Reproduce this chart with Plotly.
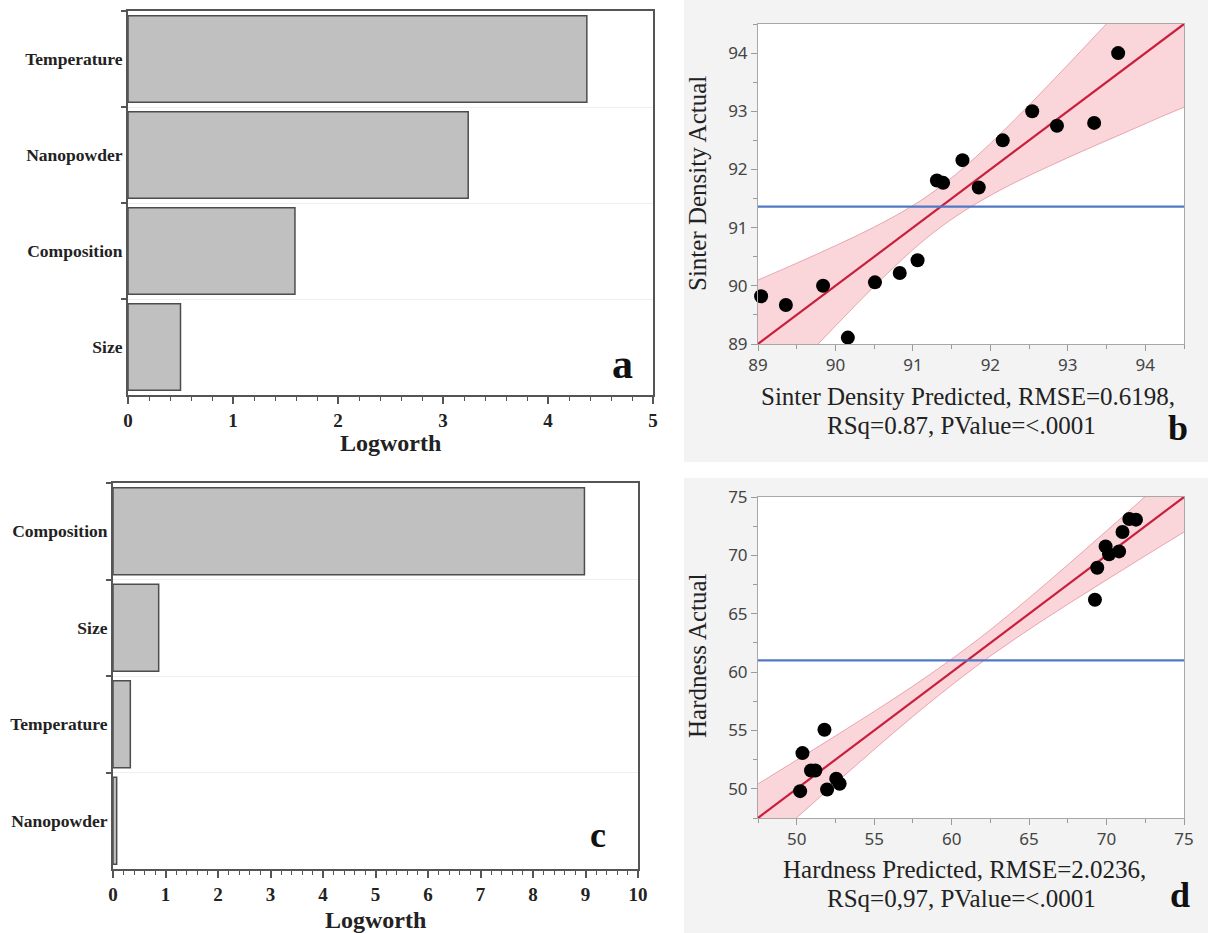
import plotly.graph_objects as go

W, H = 1208, 933

# ---------------- data ----------------
# Panel a: Logworth (sinter density model)
cats_a = ["Temperature", "Nanopowder", "Composition", "Size"]
logworth_a = [4.37, 3.24, 1.59, 0.50]

# Panel c: Logworth (hardness model)
cats_c = ["Composition", "Size", "Temperature", "Nanopowder"]
logworth_c = [8.98, 0.87, 0.33, 0.07]

# Panel b: Sinter density actual vs predicted
sd_pred = [89.04, 89.36, 89.84, 90.16, 90.51, 90.83, 91.06, 91.31, 91.39,
           91.64, 91.85, 92.16, 92.54, 92.86, 93.34, 93.65]
sd_actual = [89.82, 89.67, 90.00, 89.11, 90.06, 90.22, 90.44, 91.81, 91.77,
             92.16, 91.69, 92.50, 93.00, 92.75, 92.80, 94.00]
sd_mean = 91.36
sd_band_x = [89.0, 89.5, 90.0, 90.5, 91.0, 91.36, 91.75, 92.25, 92.75, 93.25, 93.75, 94.25, 94.5]
sd_band_hw = [1.10, 0.89, 0.69, 0.51, 0.38, 0.35, 0.39, 0.52, 0.70, 0.90, 1.11, 1.32, 1.43]

# Panel d: Hardness actual vs predicted
hd_pred = [50.22, 50.37, 50.92, 51.20, 51.79, 51.96, 52.55, 52.77,
           69.25, 69.40, 69.94, 70.16, 70.81, 71.03, 71.47, 71.90]
hd_actual = [49.80, 53.06, 51.57, 51.57, 55.06, 49.94, 50.86, 50.43,
             66.20, 68.94, 70.77, 70.09, 70.34, 72.00, 73.11, 73.06]
hd_mean = 61.0
hd_band_x = [47.5, 50.0, 52.5, 55.0, 57.5, 60.0, 61.05, 62.5, 65.0, 67.5, 70.0, 72.5, 75.0]
hd_band_hw = [2.92, 2.47, 2.03, 1.63, 1.30, 1.12, 1.10, 1.13, 1.35, 1.69, 2.10, 2.54, 3.00]

fit_slope, fit_intercept = 1.0, 0.0

# ---------------- helpers ----------------
def px(x):
    return x / W

def py(y):
    return 1 - y / H

SERIF = "Liberation Serif, Times New Roman, serif"
SANS = "Noto Sans, Open Sans, sans-serif"
BAR_FILL = "#c0c0c0"
BAR_LINE = "#4d4d4d"
FRAME = "#555555"
RED = "#c8203c"
BLUE = "#5078c4"
BAND_FILL = "rgba(240,120,135,0.30)"
BAND_LINE = "rgba(215,110,125,0.55)"
PANEL_BG = "#f3f3f3"

fig = go.Figure()

# ---------------- bar panels ----------------
fig.add_trace(go.Bar(x=logworth_a, y=cats_a, orientation="h", width=0.9,
                     marker=dict(color=BAR_FILL, line=dict(color=BAR_LINE, width=1.5)),
                     xaxis="x", yaxis="y", hoverinfo="skip"))
fig.add_trace(go.Bar(x=logworth_c, y=cats_c, orientation="h", width=0.9,
                     marker=dict(color=BAR_FILL, line=dict(color=BAR_LINE, width=1.5)),
                     xaxis="x3", yaxis="y3", hoverinfo="skip"))

# ---------------- scatter panels ----------------
def add_fit_panel(xa, ya, pred, actual, band_x, band_hw):
    lower = [x * fit_slope + fit_intercept - h for x, h in zip(band_x, band_hw)]
    upper = [x * fit_slope + fit_intercept + h for x, h in zip(band_x, band_hw)]
    fig.add_trace(go.Scatter(x=band_x, y=lower, mode="lines",
                             line=dict(color=BAND_LINE, width=1, shape="spline"),
                             xaxis=xa, yaxis=ya, hoverinfo="skip"))
    fig.add_trace(go.Scatter(x=band_x, y=upper, mode="lines", fill="tonexty",
                             fillcolor=BAND_FILL,
                             line=dict(color=BAND_LINE, width=1, shape="spline"),
                             xaxis=xa, yaxis=ya, hoverinfo="skip"))
    fit_y = [x * fit_slope + fit_intercept for x in band_x]
    fig.add_trace(go.Scatter(x=band_x, y=fit_y, mode="lines",
                             line=dict(color=RED, width=2.2),
                             xaxis=xa, yaxis=ya, hoverinfo="skip"))
    fig.add_trace(go.Scatter(x=pred, y=actual, mode="markers",
                             marker=dict(color="black", size=14),
                             xaxis=xa, yaxis=ya, cliponaxis=False, hoverinfo="skip"))

add_fit_panel("x2", "y2", sd_pred, sd_actual, sd_band_x, sd_band_hw)
add_fit_panel("x4", "y4", hd_pred, hd_actual, hd_band_x, hd_band_hw)

# ---------------- axes ----------------
bar_x_common = dict(showline=True, mirror=True, linecolor=FRAME, linewidth=2,
                    ticks="outside", ticklen=7, tickwidth=1.5, tickcolor=FRAME,
                    showgrid=False, zeroline=False, dtick=1, tick0=0, automargin=False,
                    minor=dict(dtick=0.2, ticks="outside", ticklen=4, tickcolor=FRAME, tickwidth=1),
                    tickfont=dict(family=SERIF, size=19, color="#222", weight="bold"))
bar_y_common = dict(showline=True, mirror=True, linecolor=FRAME, linewidth=2,
                    ticks="outside", ticklen=5, tickwidth=2, tickcolor=FRAME,
                    tickson="boundaries", showgrid=True, gridcolor="#efefef", gridwidth=1,
                    autorange="reversed", categoryorder="array", automargin=False,
                    tickfont=dict(family=SERIF, size=17.5, color="#222", weight="bold"))

fit_common = dict(showline=True, mirror=True, linecolor="#a8a8a8", linewidth=1,
                  ticks="outside", ticklen=6, tickcolor="#9a9a9a", tickwidth=1,
                  showgrid=False, zeroline=False, automargin=False,
                  tickfont=dict(family=SANS, size=17, color="#444"))

layout_axes = dict(
    xaxis=dict(domain=[px(128), px(653)], anchor="y", range=[0, 5], **bar_x_common),
    yaxis=dict(domain=[py(395), py(11)], anchor="x", categoryarray=cats_a, **bar_y_common),
    xaxis3=dict(domain=[px(113), px(638)], anchor="y3", range=[0, 10], **bar_x_common),
    yaxis3=dict(domain=[py(869), py(483)], anchor="x3", categoryarray=cats_c, **bar_y_common),
    xaxis2=dict(domain=[px(758), px(1184)], anchor="y2", range=[89, 94.5], dtick=1, tick0=89,
                minor=dict(dtick=0.5, ticks="outside", ticklen=4, tickcolor="#9a9a9a"), **fit_common),
    yaxis2=dict(domain=[py(344), py(24)], anchor="x2", range=[89, 94.5], dtick=1, tick0=89,
                minor=dict(dtick=0.5, ticks="outside", ticklen=4, tickcolor="#9a9a9a"), **fit_common),
    xaxis4=dict(domain=[px(758), px(1184)], anchor="y4", range=[47.5, 75], dtick=5, tick0=50,
                minor=dict(dtick=2.5, ticks="outside", ticklen=4, tickcolor="#9a9a9a"), **fit_common),
    yaxis4=dict(domain=[py(818), py(497)], anchor="x4", range=[47.5, 75], dtick=5, tick0=50,
                minor=dict(dtick=2.5, ticks="outside", ticklen=4, tickcolor="#9a9a9a"), **fit_common),
)

shapes = [
    # light grey panel backgrounds for b and d
    dict(type="rect", xref="paper", yref="paper", x0=px(684), x1=1, y0=py(462), y1=1,
         fillcolor=PANEL_BG, line=dict(width=0), layer="below"),
    dict(type="rect", xref="paper", yref="paper", x0=px(684), x1=1, y0=0, y1=py(478),
         fillcolor=PANEL_BG, line=dict(width=0), layer="below"),
    dict(type="rect", xref="x2 domain", yref="y2 domain", x0=0, x1=1, y0=0, y1=1,
         fillcolor="white", line=dict(width=0), layer="below"),
    dict(type="rect", xref="x4 domain", yref="y4 domain", x0=0, x1=1, y0=0, y1=1,
         fillcolor="white", line=dict(width=0), layer="below"),
    # mean lines
    dict(type="line", xref="x2 domain", yref="y2", x0=0, x1=1, y0=sd_mean, y1=sd_mean,
         line=dict(color=BLUE, width=2.2), layer="above"),
    dict(type="line", xref="x4 domain", yref="y4", x0=0, x1=1, y0=hd_mean, y1=hd_mean,
         line=dict(color=BLUE, width=2.2), layer="above"),
]

def ann(text, x, y, size, family=SERIF, weight="normal", color="#222", angle=0, xanchor="center"):
    return dict(text=text, x=px(x), y=py(y), xref="paper", yref="paper", showarrow=False,
                xanchor=xanchor, yanchor="middle", textangle=angle,
                font=dict(family=family, size=size, color=color, weight=weight))

annotations = [
    ann("Logworth", 390, 443, 24, weight="bold"),
    ann("Logworth", 375, 920, 24, weight="bold"),
    ann("a", 622, 364, 42, weight="bold", color="#111"),
    ann("c", 598, 835, 36, weight="bold", color="#111"),
    ann("b", 1178, 428, 36, weight="bold", color="#111"),
    ann("d", 1180, 895, 36, weight="bold", color="#111"),
    ann("Sinter Density Actual", 697, 184, 25, angle=-90),
    ann("Hardness Actual", 697, 656, 25, angle=-90),
    ann("Sinter Density Predicted, RMSE=0.6198,", 968, 396, 25),
    ann("RSq=0.87, PValue=&lt;.0001", 961, 425, 25),
    ann("Hardness Predicted, RMSE=2.0236,", 964, 869, 25),
    ann("RSq=0,97, PValue=&lt;.0001", 961, 898, 25),
]

fig.update_layout(width=W, height=H, margin=dict(l=0, r=0, t=0, b=0),
                  paper_bgcolor="white", plot_bgcolor="white", showlegend=False,
                  shapes=shapes, annotations=annotations, bargap=0.1, **layout_axes)

fig.write_html("out.html", config={"displayModeBar": False},
               post_script="document.body.style.margin='0';document.body.style.overflow='hidden';")
